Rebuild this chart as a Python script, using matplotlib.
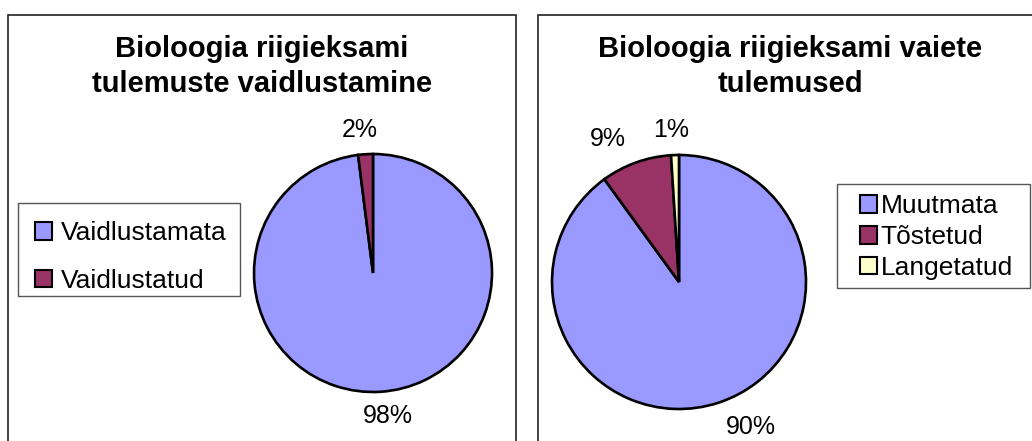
import matplotlib
matplotlib.use("Agg")
import matplotlib.pyplot as plt
from matplotlib.patches import Rectangle, Patch

plt.rcParams["font.family"] = ["Liberation Sans", "DejaVu Sans"]

# Chart data
left_title = ["Bioloogia riigieksami", "tulemuste vaidlustamine"]
left_labels = ["Vaidlustamata", "Vaidlustatud"]
left_values = [98, 2]

right_title = ["Bioloogia riigieksami vaiete", "tulemused"]
right_labels = ["Muutmata", "Tõstetud", "Langetatud"]
right_values = [90, 9, 1]

colors = ["#9999FF", "#993366", "#FFFFCC"]

W, H = 1032, 441
fig = plt.figure(figsize=(W / 100, H / 100), dpi=100)


def px_rect(x0, y0, x1, y1, **kw):
    """Rectangle given in pixel coordinates measured from the top-left."""
    r = Rectangle((x0 / W, 1 - y1 / H), (x1 - x0) / W, (y1 - y0) / H,
                  transform=fig.transFigure, fill=False, **kw)
    fig.add_artist(r)
    return r


def pie_panel(cx, cy, r, values, cols, nudges):
    k = 1.45
    ax = fig.add_axes([(cx - k * r) / W, (H - cy - k * r) / H,
                       2 * k * r / W, 2 * k * r / H])
    wedges, texts, autotexts = ax.pie(
        values, colors=cols, startangle=90, counterclock=False,
        autopct="%1.0f%%", pctdistance=1.2,
        wedgeprops=dict(edgecolor="black", linewidth=1.9),
        textprops=dict(fontsize=18, color="black"))
    for t, dx in zip(autotexts, nudges):
        x, y = t.get_position()
        t.set_position((x + dx, y))
    ax.set_xlim(-k, k)
    ax.set_ylim(-k, k)
    ax.set_aspect("equal")
    ax.axis("off")
    return ax, wedges


def title(lines, cx, baselines):
    for line, yb in zip(lines, baselines):
        fig.text(cx / W, 1 - yb / H, line, ha="center", va="baseline",
                 fontsize=21, fontweight="bold")


def legend(labels, cols, x_left, y_mid, spacing, pad):
    handles = [Patch(facecolor=c, edgecolor="black", linewidth=1.5) for c in cols]
    fig.legend(handles, labels, loc="center left",
               bbox_to_anchor=(x_left / W, 1 - y_mid / H),
               frameon=False, borderpad=0, borderaxespad=0,
               fontsize=19, handlelength=0.65, handleheight=0.65,
               handletextpad=pad, labelspacing=spacing)


# Panel borders
px_rect(8, 15, 516, 460, edgecolor="#222222", linewidth=1.2)
px_rect(538, 15, 1046, 460, edgecolor="#222222", linewidth=1.2)

# Left panel
title(left_title, 262, [57, 92])
pie_panel(373, 273, 119, left_values, colors[:2], [0.051, -0.034])
px_rect(18, 203, 240, 296, edgecolor="#555555", linewidth=1.0)
legend(left_labels, colors[:2], 35, 257, 0.88, 0.33)

# Right panel
title(right_title, 790, [57, 92])
pie_panel(679, 282, 127, right_values, colors, [0.196, -0.153, -0.025])
px_rect(837, 184, 1030, 288, edgecolor="#555555", linewidth=1.0)
legend(right_labels, colors, 860, 237, 0.25, 0.13)

fig.savefig("out.png", dpi=100)
